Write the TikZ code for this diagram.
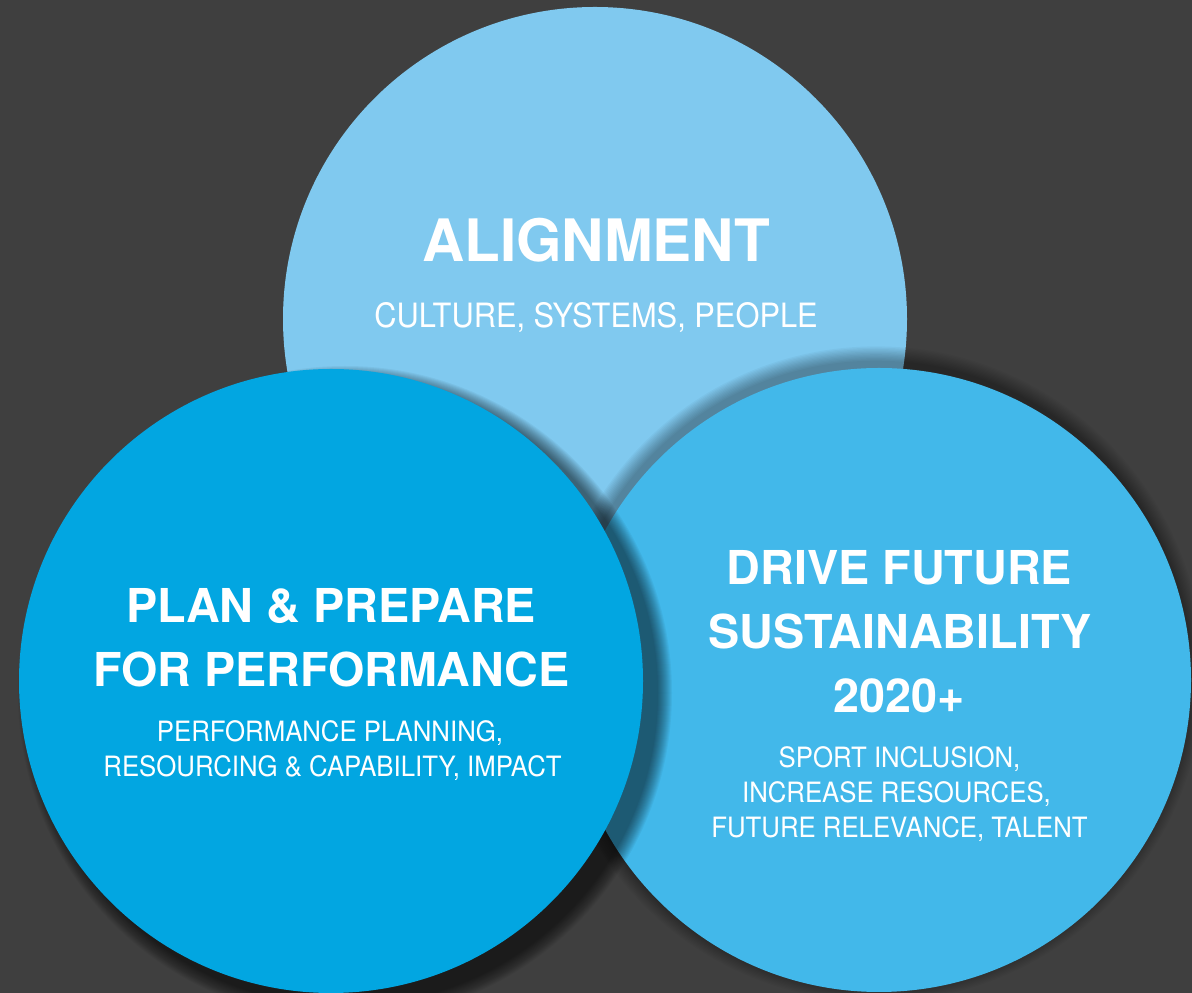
\documentclass[tikz,border=0pt]{standalone}
\usepackage{fontspec}
\setmainfont{TeX Gyre Heros}
\newfontfamily\sottile{TeX Gyre Heros}[FakeStretch=0.92]
\usepackage{tikz}
\usepackage{xcolor}
\definecolor{sfondo}{HTML}{3F3F3F}
\definecolor{celeste}{HTML}{80C9EF}
\definecolor{blu}{HTML}{02A6E1}
\definecolor{azzurro}{HTML}{42B8EA}
\newcommand{\ombra}[5]{
\foreach \k in {1,...,#4}
  \fill[black, fill opacity=#3] ([shift={#2}]#1) circle[radius=\raggio+#5*\k];
}

\begin{document}
\begin{tikzpicture}[x=1pt, y=1pt,
    titolo/.style={text=white, inner sep=0pt, anchor=base, font=\fontsize{#1}{#1}\selectfont\bfseries},
    titolo/.default=46.7,
    sotto/.style={text=white, inner sep=0pt, anchor=base, font=\fontsize{#1}{#1}\selectfont\sottile},
    sotto/.default=28]
    % Parametri
    \pgfmathsetmacro{\raggio}{312}
    % Sfondo
    \fill[sfondo] (0,0) rectangle (1192,993);
    \useasboundingbox (0,0) rectangle (1192,993);
    % Centri dei cerchi
    \coordinate (A) at (595,674);
    \coordinate (P) at (331,312);
    \coordinate (D) at (879,313);
    % Cerchio in alto
    \fill[celeste] (A) circle[radius=\raggio];
    % Cerchio a destra, con ombra
    \ombra{D}{(-3,6)}{0.03}{12}{1.3}
    \fill[azzurro] (D) circle[radius=\raggio];
    % Cerchio a sinistra, con ombra
    \ombra{P}{(14,-12)}{0.042}{15}{1}
    \fill[blu] (P) circle[radius=\raggio];
    % Testi
    \node[titolo=58.5] (allineamento) at (596,731) {ALIGNMENT};
    \node[sotto=33.5] (cultura) at (596,665) {CULTURE, SYSTEMS, PEOPLE};
    \node[titolo] (piano1) at (331,370) {PLAN \& PREPARE};
    \node[titolo] (piano2) at (331.5,306) {FOR PERFORMANCE};
    \node[sotto] (piano3) at (330,251) {PERFORMANCE PLANNING,};
    \node[sotto] (piano4) at (332.5,216) {RESOURCING \& CAPABILITY, IMPACT};
    \node[titolo] (futuro1) at (899.5,408) {DRIVE FUTURE};
    \node[titolo] (futuro2) at (900,344) {SUSTAINABILITY};
    \node[titolo] (futuro3) at (899.5,280) {2020+};
    \node[sotto] (futuro4) at (899.5,225) {SPORT INCLUSION,};
    \node[sotto] (futuro5) at (896.5,190) {INCREASE RESOURCES,};
    \node[sotto] (futuro6) at (899.5,155) {FUTURE RELEVANCE, TALENT};
\end{tikzpicture}
\end{document}
